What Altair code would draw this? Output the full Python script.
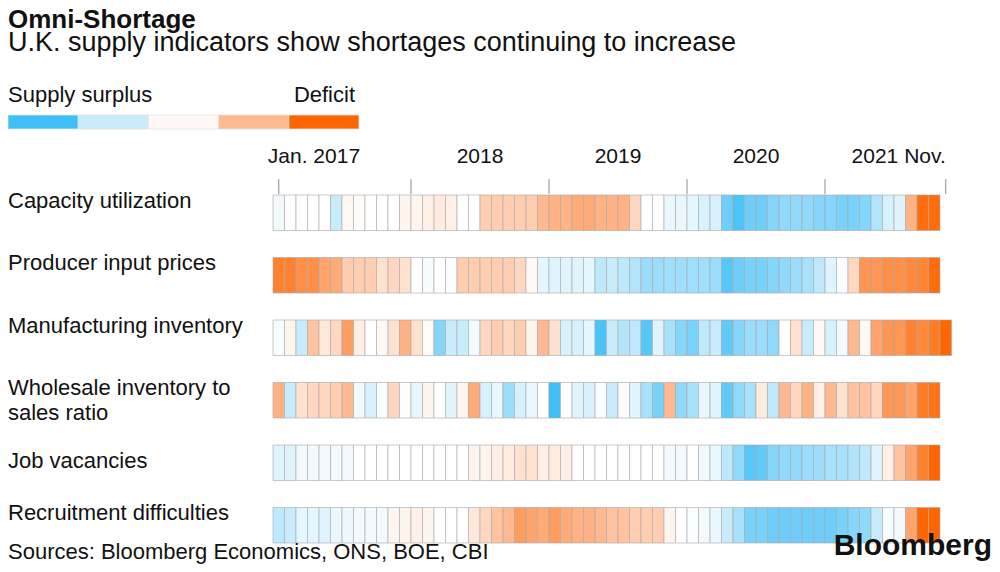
import altair as alt
import pandas as pd

FONT = "Liberation Sans"

rows = ["Capacity utilization", "Producer input prices", "Manufacturing inventory",
        "Wholesale inventory to\nsales ratio", "Job vacancies", "Recruitment difficulties"]

# Monthly readings from Jan. 2017 (negative = supply surplus, positive = deficit)
cap_util = [-0.05, 0, 0, 0, 0, -0.2, 0.03, 0.02, 0, 0, 0, 0.05,
            0.05, 0.08, 0.1, 0.08, 0, 0, 0.25, 0.25, 0.25, 0.25, 0.25, 0.35,
            0.4, 0.4, 0.45, 0.45, 0.4, 0.4, 0.4, 0.2, 0, 0, -0.08, -0.08,
            -0.1, -0.15, -0.15, -0.6, -0.75, -0.6, -0.6, -0.5, -0.45, -0.45, -0.45, -0.5,
            -0.5, -0.55, -0.55, -0.5, -0.3, -0.15, -0.12, 0.4, 0.9, 0.9]
prod_prices = [0.75, 0.75, 0.65, 0.65, 0.5, 0.45, 0.25, 0.25, 0.25, 0.15, 0.2, 0.15,
               0, -0.03, 0, 0, 0.25, 0.25, 0.25, 0.25, 0.25, 0.2, 0.03, -0.1,
               -0.12, -0.12, -0.12, -0.1, -0.25, -0.2, -0.25, -0.3, -0.4, -0.4, -0.38, -0.38,
               -0.38, -0.38, -0.4, -0.7, -0.6, -0.55, -0.55, -0.5, -0.45, -0.4, -0.35, -0.25,
               -0.12, -0.02, 0.2, 0.6, 0.6, 0.65, 0.65, 0.7, 0.72, 0.9]
mfg_inv = [-0.03, 0.05, -0.2, 0.3, 0.12, 0.2, 0.55, 0.08, 0, 0.03, 0.15, 0.4,
           0.15, 0.02, -0.5, -0.2, -0.2, -0.05, 0.2, 0.25, 0.2, 0.25, 0.05, 0.35,
           0.15, -0.15, -0.15, -0.1, -0.75, -0.2, -0.3, -0.25, -0.7, -0.12, -0.35, -0.5,
           -0.55, -0.25, -0.2, -0.65, -0.5, -0.4, -0.4, -0.45, 0, 0.15, -0.2, 0.03,
           -0.15, -0.05, 0.35, 0.03, 0.5, 0.6, 0.6, 0.75, 0.7, 0.8, 0.95]
wholesale = [0.4, -0.2, 0.15, 0.2, 0.2, 0.25, 0.35, -0.05, -0.15, -0.02, 0.2, 0,
             -0.08, 0.05, 0, -0.12, 0.05, 0.45, -0.15, -0.08, -0.4, -0.15, -0.08, 0,
             -0.8, 0, -0.12, -0.15, -0.03, -0.2, 0.02, -0.12, -0.35, -0.55, 0.35, -0.45,
             -0.35, -0.08, -0.12, -0.65, -0.45, -0.35, 0.1, -0.25, 0.35, 0.2, 0.4, 0.08,
             0.35, 0.15, 0.3, 0.3, 0.2, 0.6, 0.6, 0.5, 0.8, 0.85]
job_vac = [-0.12, -0.12, -0.05, -0.05, -0.05, -0.05, -0.05, 0, 0, 0, 0, 0,
           0, 0, 0, 0, 0, 0.05, 0.05, 0.08, 0.1, 0.15, 0.15, 0.08,
           0.1, 0.08, 0, 0, 0, 0, 0, 0, 0, 0, -0.05, -0.05,
           0, -0.05, -0.08, -0.25, -0.45, -0.7, -0.65, -0.5, -0.45, -0.45, -0.4, -0.4,
           -0.35, -0.35, -0.3, -0.25, -0.12, 0.08, 0.3, 0.5, 0.75, 0.95]
recruit = [-0.25, -0.2, -0.1, -0.1, -0.12, -0.07, -0.07, -0.05, -0.05, -0.05, 0.05, 0.05,
           0.07, 0.05, 0, 0, 0, 0.12, 0.2, 0.3, 0.35, 0.55, 0.5, 0.45,
           0.55, 0.45, 0.4, 0.4, 0.35, 0.3, 0.3, 0.25, 0.25, 0.25, 0.05, 0,
           -0.02, -0.05, -0.08, -0.2, -0.35, -0.55, -0.55, -0.6, -0.6, -0.6, -0.6, -0.6,
           -0.6, -0.55, -0.5, -0.45, -0.2, -0.03, -0.05, 0.5, 0.95, 0.95]
series = [cap_util, prod_prices, mfg_inv, wholesale, job_vac, recruit]

tick_months = [0.5, 12, 24, 36, 48, 58.5]
tick_labels = ["Jan. 2017", "2018", "2019", "2020", "2021 Nov."]
tick_label_months = [-0.45, 18, 30, 42, 58.5]
tick_label_align = ["left", "center", "center", "center", "right"]

legend_colors = ["#40bff7", "#c9ecfc", "#fff8f6", "#ffb990", "#ff6600"]
scale_domain = [-0.8, -0.2, 0, 0.35, 0.95]
scale_range = ["#40bff7", "#c9ecfc", "#ffffff", "#ffb990", "#ff6600"]

records = []
for name, vals in zip(rows, series):
    for i, v in enumerate(vals):
        records.append({"row": name, "m": i, "m2": i + 1, "v": v})
df = pd.DataFrame(records)

ticks_df = pd.DataFrame({"m": tick_months})
labels_df = pd.DataFrame({"label": tick_labels, "m": tick_label_months, "align": tick_label_align})
rows_df = pd.DataFrame({"row": rows})

PW, PH = 678.5, 375
PL, PT = 265, 173.5

xscale = alt.Scale(domain=[0, 59], nice=False, zero=False)
yscale = alt.Scale(domain=rows, paddingInner=0.432, paddingOuter=0.216)

heat = alt.Chart(df).mark_rect(stroke="#a8a8a8", strokeOpacity=0.6, strokeWidth=1).encode(
    x=alt.X("m:Q", scale=xscale, axis=None),
    x2="m2:Q",
    y=alt.Y("row:N", scale=yscale, axis=None, sort=rows),
    color=alt.Color("v:Q", scale=alt.Scale(domain=scale_domain, range=scale_range,
                                           clamp=True, interpolate="rgb"), legend=None),
)

tick_rules = alt.Chart(ticks_df).mark_rule(color="#8c8c8c", strokeWidth=1).encode(
    x=alt.X("m:Q", scale=xscale, axis=None),
    y=alt.value(-2.5), y2=alt.value(12.5),
)

tick_text_layers = []
for al in ["left", "center", "right"]:
    tick_text_layers.append(
        alt.Chart(labels_df).transform_filter(alt.datum.align == al).mark_text(
            align=al, baseline="alphabetic", fontSize=21, font=FONT, color="#111"
        ).encode(x=alt.X("m:Q", scale=xscale, axis=None), y=alt.value(-19), text="label:N")
    )

row_text = alt.Chart(rows_df).transform_filter(alt.datum.row != "Job vacancies").mark_text(
    align="left", baseline="alphabetic", fontSize=22, font=FONT, color="#111",
    dy=-5, lineBreak="\n", lineHeight=25,
).encode(x=alt.value(-PL), y=alt.Y("row:N", scale=yscale, axis=None, sort=rows), text="row:N")

row_text_jv = alt.Chart(rows_df).transform_filter(alt.datum.row == "Job vacancies").mark_text(
    align="left", baseline="alphabetic", fontSize=22, font=FONT, color="#111", dy=5,
).encode(x=alt.value(-PL), y=alt.Y("row:N", scale=yscale, axis=None, sort=rows), text="row:N")


def txt(s, x, y, size, weight="normal", align="left"):
    return alt.Chart(alt.Data(values=[{"t": s}])).mark_text(
        align=align, baseline="alphabetic", fontSize=size, fontWeight=weight, font=FONT, color="#111"
    ).encode(x=alt.value(x), y=alt.value(y), text="t:N")


deco = [
    txt("Omni-Shortage", -PL, 20 - PT, 26, "bold"),
    txt("U.K. supply indicators show shortages continuing to increase", -PL, 43 - PT, 27),
    txt("Supply surplus", -PL, 93.5 - PT, 22),
    txt("Deficit", 347 - PL, 93.5 - PT, 22, align="right"),
    txt("Sources: Bloomberg Economics, ONS, BOE, CBI", -PL, 551 - PT, 22),
    txt("Bloomberg", 984 - PL, 547 - PT, 30, "bold", align="right"),
]

seg_w = 351 / 5
legend_layers = []
for i, c in enumerate(legend_colors):
    legend_layers.append(
        alt.Chart(alt.Data(values=[{}])).mark_rect(color=c, stroke="#e2e2e2", strokeWidth=0.8).encode(
            x=alt.value(i * seg_w - PL), x2=alt.value((i + 1) * seg_w - PL),
            y=alt.value(107 - PT), y2=alt.value(121 - PT),
        )
    )

chart = alt.layer(
    tick_rules, heat, row_text, row_text_jv, *tick_text_layers, *deco, *legend_layers
).properties(
    width=PW, height=PH,
    autosize=alt.AutoSizeParams(type="none"),
    padding={"left": PL, "top": PT, "right": 984 - PL - PW, "bottom": 556 - PT - PH},
    background="white",
).configure_view(stroke=None)

chart.save("out.html", embed_options={"renderer": "svg", "actions": False})
